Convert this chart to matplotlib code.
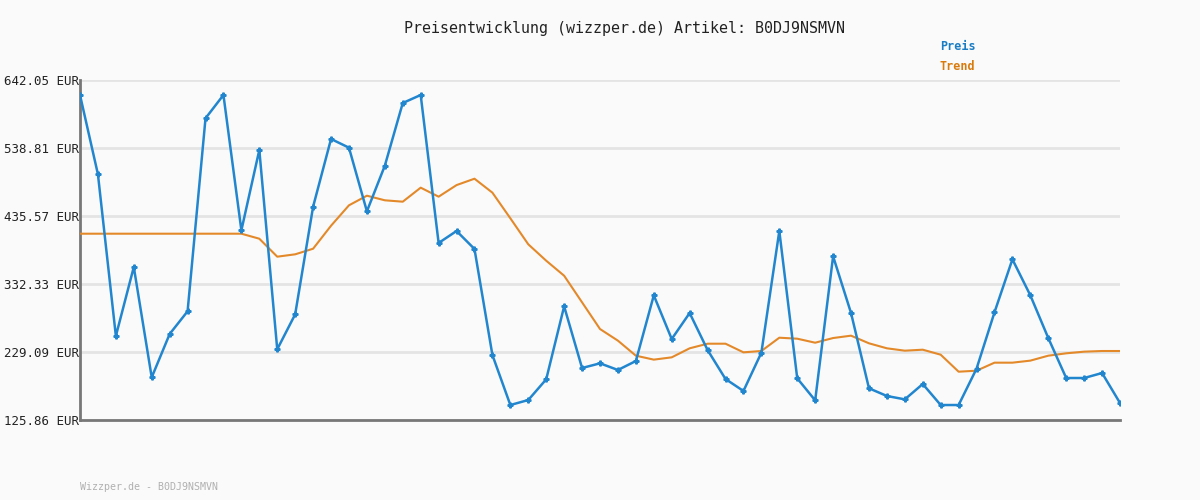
import matplotlib.pyplot as plt
import numpy as np

# price history (EUR), one value per sample
preis = [619.3, 498.9, 253.4, 358.1, 190.6, 256.4, 290.9, 583.9, 619.3, 413.8,
         535.8, 233.2, 286.3, 449.7, 552.5, 539.3, 442.7, 511.9, 607.1, 619.3,
         394.6, 412.8, 385.5, 224.5, 148.6, 156.2, 187.6, 298.4, 204.8, 211.9,
         201.8, 215.4, 315.1, 248.8, 288.3, 232.1, 188.1, 169.9, 228.1, 412.8,
         189.1, 155.7, 374.4, 288.3, 174.0, 162.3, 157.2, 180.5, 148.6, 148.6,
         203.8, 289.3, 369.8, 315.1, 250.3, 189.6, 189.6, 197.2, 151.7]

trend = [408.7, 408.7, 408.7, 408.7, 408.7, 408.7, 408.7, 408.7, 408.7, 408.7,
         401.1, 373.8, 377.4, 385.9, 420.8, 451.8, 466.4, 459.4, 457.3, 478.6,
         464.9, 482.5, 492.2, 471.0, 432.1, 392.6, 367.7, 344.9, 304.5, 264.0,
         246.3, 223.5, 217.5, 221.0, 234.7, 241.7, 241.7, 228.6, 230.6, 250.8,
         249.3, 243.2, 250.3, 253.9, 242.3, 234.7, 231.1, 232.6, 225.0, 199.2,
         200.7, 212.9, 212.9, 216.0, 223.5, 227.1, 229.6, 230.6, 230.6]

y_ticks = [125.86, 229.09, 332.33, 435.57, 538.81, 642.05]
artikel = "B0DJ9NSMVN"

blue = "#2286cf"
orange = "#e3892a"
mono = "DejaVu Sans Mono"

fig = plt.figure(figsize=(12, 5), dpi=100, facecolor="#fafafa")
ax = fig.add_axes([80/1200, 80/500, 1040/1200, 340/500], facecolor="#fafafa")

x = np.arange(len(preis))
ax.plot(x, trend, color=orange, lw=1.5, zorder=3)
ax.plot(x, preis, color=blue, lw=1.8, marker="P", markersize=3.5, zorder=4)

ax.set_xlim(0, len(preis) - 1)
ax.set_ylim(y_ticks[0], y_ticks[-1])
ax.set_yticks(y_ticks)
ax.set_yticklabels([f"{v:.2f} EUR" for v in y_ticks], fontfamily=mono,
                   fontsize=9, color="#222222")
ax.set_xticks([])
ax.tick_params(axis="y", length=0, pad=1)

ax.grid(axis="y", color="#e4e4e4", lw=2)
ax.set_axisbelow(True)
for s in ["top", "right"]:
    ax.spines[s].set_visible(False)
for s in ["left", "bottom"]:
    ax.spines[s].set_color("#777777")
    ax.spines[s].set_linewidth(2)

fig.text(624/1200, 1 - 28/500, f"Preisentwicklung (wizzper.de) Artikel: {artikel}",
         ha="center", va="center", fontfamily=mono, fontsize=10.8, color="#222222")
fig.text(940/1200, 1 - 46/500, "Preis", ha="left", va="center",
         fontfamily=mono, fontsize=8.5, fontweight="bold", color="#1a7dc4")
fig.text(940/1200, 1 - 67/500, "Trend", ha="left", va="center",
         fontfamily=mono, fontsize=8.5, fontweight="bold", color="#d97b0c")
fig.text(80/1200, 1 - 487/500, f"Wizzper.de - {artikel}", ha="left", va="center",
         fontfamily=mono, fontsize=7.2, color="#b0b0b0")

fig.savefig("out.png", dpi=100, facecolor=fig.get_facecolor())
